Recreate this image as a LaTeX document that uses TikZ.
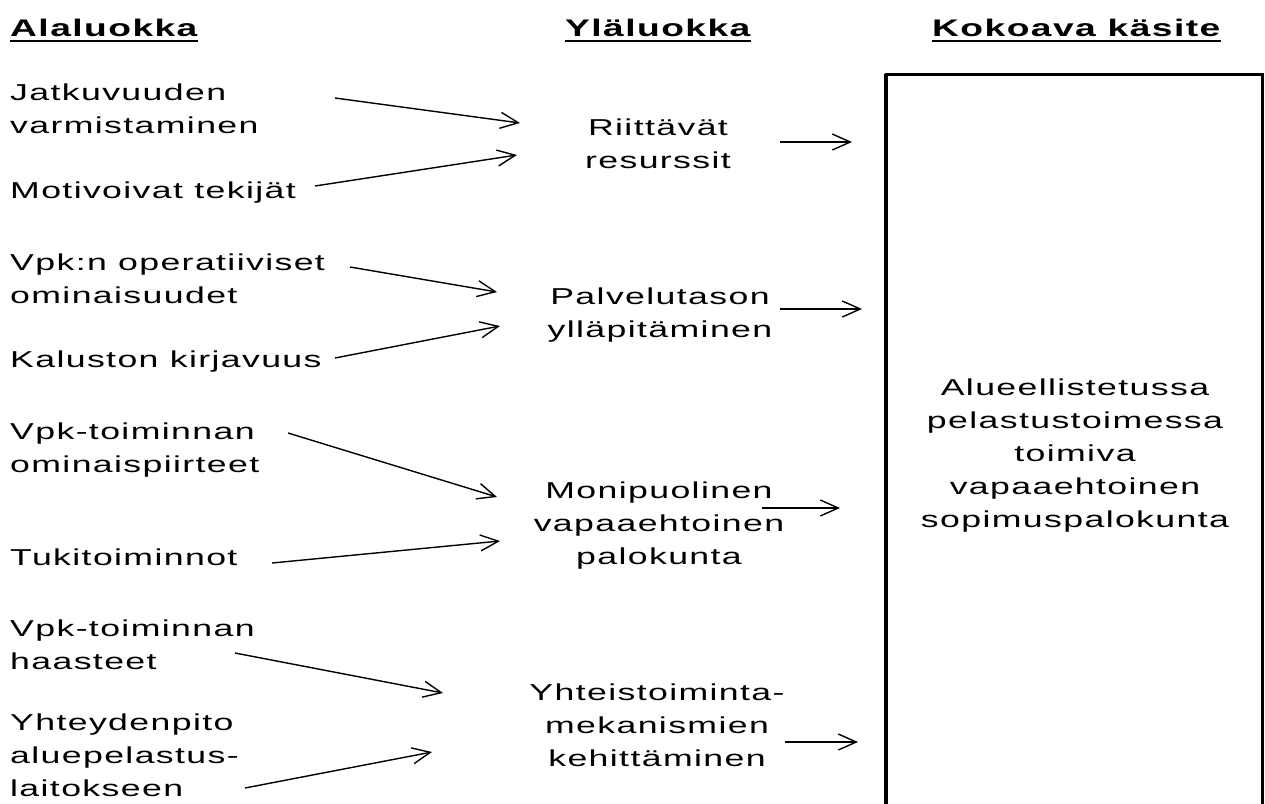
\documentclass[tikz,border=0pt]{standalone}
\usepackage{fontspec}
\setmainfont{Liberation Sans}[FakeStretch=1.55, LetterSpace=6]
\usetikzlibrary{arrows.meta}
\tikzset{
  txt/.style={font=\fontsize{23}{33}\selectfont, inner sep=0pt},
  lefttxt/.style={txt, anchor=base west, align=left},
  midtxt/.style={txt, anchor=base, align=center},
  hdr/.style={font=\bfseries\fontsize{24}{26}\selectfont, inner sep=0pt, anchor=base west},
  uline/.style={line width=2pt},
  arr/.style={-{Straight Barb[length=18pt,width=16pt,line width=1.4pt]}, line width=1.4pt},
  frame/.style={line width=3pt}
}
\begin{document}
\begin{tikzpicture}[x=1pt,y=-1pt]
\useasboundingbox (0,0) rectangle (1265,803);
% headers
\node[hdr] (h1) at (10,36) {Alaluokka};
\node[hdr] (h2) at (565,36) {Yläluokka};
\node[hdr] (h3) at (932,36) {Kokoava käsite};
\foreach \h in {h1,h2,h3}
  \draw[uline] ([yshift=-5pt]\h.base west) -- ([yshift=-5pt]\h.base east);
% frame
\coordinate (fbl) at (886,810);
\coordinate (ftl) at (886,74);
\coordinate (ftr) at (1262,74);
\coordinate (fbr) at (1262,810);
\draw[frame] (fbl) -- (ftl) -- (ftr) -- (fbr);
\draw[line width=4.5pt] (fbl) -- (ftl);
% left column (anchor = baseline of last line)
\node[lefttxt] (l1) at (10,133) {Jatkuvuuden\\varmistaminen};
\node[lefttxt] (l2) at (10,198) {Motivoivat tekijät};
\node[lefttxt] (l3) at (10,303) {Vpk:n operatiiviset\\ominaisuudet};
\node[lefttxt] (l4) at (10,367) {Kaluston kirjavuus};
\node[lefttxt] (l5) at (10,472) {Vpk-toiminnan\\ominaispiirteet};
\node[lefttxt] (l6) at (10,565) {Tukitoiminnot};
\node[lefttxt] (l7) at (10,669) {Vpk-toiminnan\\haasteet};
\node[lefttxt] (l8) at (10,796) {Yhteydenpito\\aluepelastus-\\laitokseen};
% middle column
\node[midtxt] (m1) at (658,168) {Riittävät\\resurssit};
\node[midtxt] (m2) at (660,337) {Palvelutason\\ylläpitäminen};
\node[midtxt] (m3) at (659,564) {Monipuolinen\\vapaaehtoinen\\palokunta};
\node[midtxt] (m4) at (657,766) {Yhteistoiminta-\\mekanismien\\kehittäminen};
% right box text
\node[midtxt] (k) at (1075,527) {Alueellistetussa\\pelastustoimessa\\toimiva\\vapaaehtoinen\\sopimuspalokunta};
% arrow ends
\coordinate (a1s) at (335,98);  \coordinate (a1e) at (520,123);
\coordinate (a2s) at (315,186); \coordinate (a2e) at (517,155);
\coordinate (a3s) at (350,267); \coordinate (a3e) at (497,292);
\coordinate (a4s) at (335,358); \coordinate (a4e) at (500,326);
\coordinate (a5s) at (288,433); \coordinate (a5e) at (497,497);
\coordinate (a6s) at (272,563); \coordinate (a6e) at (500,541);
\coordinate (a7s) at (235,653); \coordinate (a7e) at (443,693);
\coordinate (a8s) at (245,788); \coordinate (a8e) at (432,752);
\coordinate (r1s) at (780,142); \coordinate (r1e) at (852,142);
\coordinate (r2s) at (780,309); \coordinate (r2e) at (862,309);
\coordinate (r3s) at (762,508); \coordinate (r3e) at (840,508);
\coordinate (r4s) at (785,742); \coordinate (r4e) at (858,742);
\foreach \a in {a1,a2,a3,a4,a5,a6,a7,a8,r1,r2,r3,r4}
  \draw[arr] (\a s) -- (\a e);
\end{tikzpicture}
\end{document}
